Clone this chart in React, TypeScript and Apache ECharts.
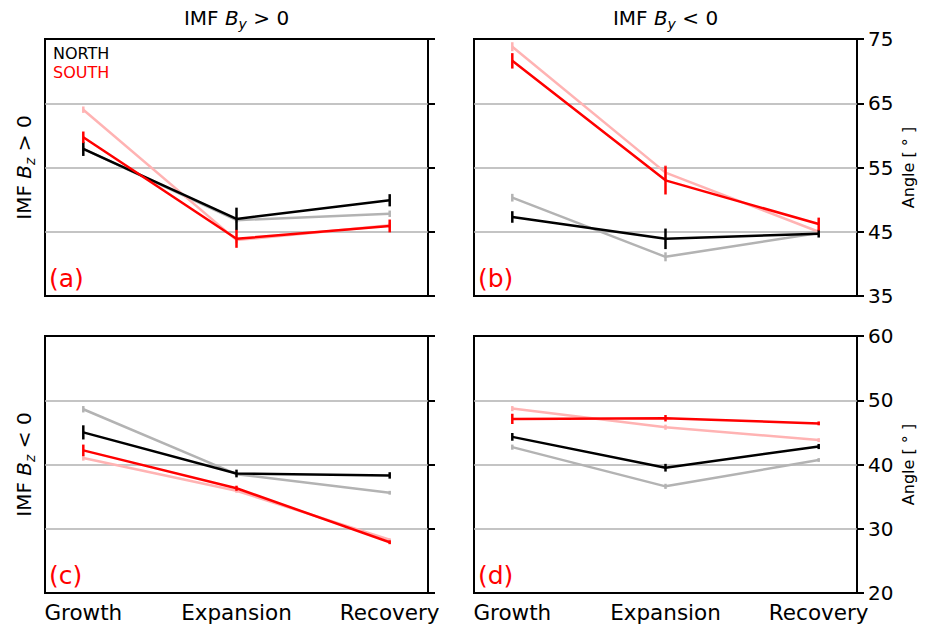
import React, { useEffect, useRef } from "react";
import * as echarts from "echarts";

const phases = ["Growth", "Expansion", "Recovery"];
const phaseX = [0, 1, 2];

// Panel (a): IMF By > 0, Bz > 0
const aNorth = [57.9, 47.0, 49.9];
const aNorthErr = [1.1, 1.75, 0.95];
const aSouth = [59.7, 43.9, 45.9];
const aSouthErr = [0.9, 1.4, 1.0];
const aNorthAlt = [57.9, 46.8, 47.8];
const aNorthAltErr = [0.4, 0.4, 0.5];
const aSouthAlt = [64.0, 43.7, 46.0];
const aSouthAltErr = [0.5, 0.5, 0.4];

// Panel (b): IMF By < 0, Bz > 0
const bNorth = [47.3, 43.9, 44.7];
const bNorthErr = [0.9, 1.6, 0.6];
const bSouth = [71.6, 53.0, 46.2];
const bSouthErr = [1.2, 2.2, 1.0];
const bNorthAlt = [50.3, 41.1, 44.8];
const bNorthAltErr = [0.6, 0.7, 0.3];
const bSouthAlt = [73.8, 54.2, 45.0];
const bSouthAltErr = [0.7, 1.2, 0.4];

// Panel (c): IMF By > 0, Bz < 0
const cNorth = [45.0, 38.6, 38.3];
const cNorthErr = [1.1, 0.6, 0.5];
const cSouth = [42.2, 36.3, 27.9];
const cSouthErr = [0.9, 0.4, 0.3];
const cNorthAlt = [48.6, 38.5, 35.6];
const cNorthAltErr = [0.5, 0.3, 0.3];
const cSouthAlt = [41.0, 35.9, 28.3];
const cSouthAltErr = [0.4, 0.3, 0.2];

// Panel (d): IMF By < 0, Bz < 0
const dNorth = [44.3, 39.5, 42.8];
const dNorthErr = [0.6, 0.6, 0.4];
const dSouth = [47.1, 47.2, 46.4];
const dSouthErr = [0.8, 0.5, 0.3];
const dNorthAlt = [42.7, 36.6, 40.7];
const dNorthAltErr = [0.4, 0.4, 0.3];
const dSouthAlt = [48.7, 45.8, 43.8];
const dSouthAltErr = [0.4, 0.4, 0.3];

const topRange = [35, 75];
const bottomRange = [20, 60];
const tickStep = 10;
const panelLetters = ["(a)", "(b)", "(c)", "(d)"];

const FONT = "DejaVu Sans";
const RED = "#ff0000";
const BLACK = "#000000";
const LIGHT_RED = "#ffb3b3";
const GRAY = "#b3b3b3";

type Group = { vals: number[]; errs: number[]; color: string; z: number };

const panels: Group[][] = [
  [
    { vals: aNorthAlt, errs: aNorthAltErr, color: GRAY, z: 2 },
    { vals: aSouthAlt, errs: aSouthAltErr, color: LIGHT_RED, z: 3 },
    { vals: aNorth, errs: aNorthErr, color: BLACK, z: 4 },
    { vals: aSouth, errs: aSouthErr, color: RED, z: 5 },
  ],
  [
    { vals: bNorthAlt, errs: bNorthAltErr, color: GRAY, z: 2 },
    { vals: bSouthAlt, errs: bSouthAltErr, color: LIGHT_RED, z: 3 },
    { vals: bNorth, errs: bNorthErr, color: BLACK, z: 4 },
    { vals: bSouth, errs: bSouthErr, color: RED, z: 5 },
  ],
  [
    { vals: cNorthAlt, errs: cNorthAltErr, color: GRAY, z: 2 },
    { vals: cSouthAlt, errs: cSouthAltErr, color: LIGHT_RED, z: 3 },
    { vals: cNorth, errs: cNorthErr, color: BLACK, z: 4 },
    { vals: cSouth, errs: cSouthErr, color: RED, z: 5 },
  ],
  [
    { vals: dNorthAlt, errs: dNorthAltErr, color: GRAY, z: 2 },
    { vals: dSouthAlt, errs: dSouthAltErr, color: LIGHT_RED, z: 3 },
    { vals: dNorth, errs: dNorthErr, color: BLACK, z: 4 },
    { vals: dSouth, errs: dSouthErr, color: RED, z: 5 },
  ],
];

const gridRects = [
  { left: 45, top: 39, width: 383, height: 257 },
  { left: 474, top: 39, width: 383, height: 257 },
  { left: 45, top: 336, width: 383, height: 257 },
  { left: 474, top: 336, width: 383, height: 257 },
];

const richTitle = {
  n: { fontSize: 20, fontFamily: FONT, lineHeight: 26, fill: "#000" },
  i: { fontSize: 20, fontFamily: FONT, fontStyle: "italic", lineHeight: 26, fill: "#000" },
  s: { fontSize: 14, fontFamily: FONT, fontStyle: "italic", lineHeight: 14, verticalAlign: "bottom", fill: "#000" },
};

export default function App() {
  const ref = useRef<HTMLDivElement>(null);
  useEffect(() => {
    if (!ref.current) return;
    const chart = echarts.init(ref.current, null, { renderer: "svg" });

    const grid = gridRects.map((r) => ({
      ...r,
      show: true,
      borderColor: "#000",
      borderWidth: 2,
      backgroundColor: "transparent",
      containLabel: false,
    }));

    const xAxis = gridRects.map((_, i) => ({
      type: "value",
      gridIndex: i,
      min: -0.25,
      max: 2.25,
      axisLine: { show: false, onZero: false },
      axisTick: { show: false },
      splitLine: { show: false },
      axisLabel: {
        show: i >= 2,
        customValues: phaseX,
        formatter: (v: number) => phases[Math.round(v)],
        fontSize: 21.5,
        fontFamily: FONT,
        color: "#000",
        margin: 8,
      },
    }));

    const yAxis = gridRects.map((_, i) => {
      const rng = i < 2 ? topRange : bottomRange;
      return {
        type: "value",
        gridIndex: i,
        position: "right",
        min: rng[0],
        max: rng[1],
        interval: tickStep,
        axisLine: { show: false, onZero: false },
        axisTick: { show: true, inside: false, length: 7, lineStyle: { color: "#000", width: 2 } },
        axisLabel: {
          show: i % 2 === 1,
          fontSize: 20,
          fontFamily: FONT,
          color: "#000",
          margin: 11,
        },
        splitLine: {
          show: true,
          showMinLine: false,
          showMaxLine: false,
          lineStyle: { color: "#b0b0b0", width: 1.6 },
        },
      };
    });

    const series: any[] = [];
    panels.forEach((groups, pi) => {
      groups.forEach((g) => {
        series.push({
          type: "line",
          xAxisIndex: pi,
          yAxisIndex: pi,
          data: phaseX.map((x, k) => [x, g.vals[k]]),
          symbol: "none",
          lineStyle: { color: g.color, width: 2.5 },
          z: g.z,
          silent: true,
        });
        series.push({
          type: "custom",
          xAxisIndex: pi,
          yAxisIndex: pi,
          data: phaseX.map((x, k) => [x, g.vals[k], g.errs[k]]),
          encode: { x: 0, y: 1 },
          z: g.z,
          silent: true,
          renderItem: (_p: any, api: any) => {
            const x = api.value(0);
            const y = api.value(1);
            const e = api.value(2);
            const p1 = api.coord([x, y - e]);
            const p2 = api.coord([x, y + e]);
            return {
              type: "line",
              shape: { x1: p1[0], y1: p1[1], x2: p2[0], y2: p2[1] },
              style: { stroke: g.color, lineWidth: 2.5 },
            };
          },
        });
      });
    });

    const graphic: any[] = [
      {
        type: "text",
        x: 236.5,
        y: 18,
        style: { text: "{n|IMF }{i|B}{s|y}{n| > 0}", rich: richTitle, align: "center", verticalAlign: "middle" },
      },
      {
        type: "text",
        x: 665.5,
        y: 18,
        style: { text: "{n|IMF }{i|B}{s|y}{n| < 0}", rich: richTitle, align: "center", verticalAlign: "middle" },
      },
      {
        type: "text",
        x: 24,
        y: 167.5,
        rotation: Math.PI / 2,
        style: { text: "{n|IMF }{i|B}{s|z}{n| > 0}", rich: richTitle, align: "center", verticalAlign: "middle" },
      },
      {
        type: "text",
        x: 24,
        y: 464.5,
        rotation: Math.PI / 2,
        style: { text: "{n|IMF }{i|B}{s|z}{n| < 0}", rich: richTitle, align: "center", verticalAlign: "middle" },
      },
      {
        type: "text",
        x: 908,
        y: 167.5,
        rotation: Math.PI / 2,
        style: { text: "Angle [ ° ]", fontSize: 16, fontFamily: FONT, fill: "#000", align: "center", verticalAlign: "middle" },
      },
      {
        type: "text",
        x: 908,
        y: 464.5,
        rotation: Math.PI / 2,
        style: { text: "Angle [ ° ]", fontSize: 16, fontFamily: FONT, fill: "#000", align: "center", verticalAlign: "middle" },
      },
      {
        type: "text",
        x: 53,
        y: 53,
        style: { text: "NORTH", fontSize: 16, fontFamily: FONT, fill: BLACK, align: "left", verticalAlign: "middle" },
      },
      {
        type: "text",
        x: 53,
        y: 72,
        style: { text: "SOUTH", fontSize: 16, fontFamily: FONT, fill: RED, align: "left", verticalAlign: "middle" },
      },
      ...gridRects.map((r, i) => ({
        type: "text",
        x: r.left + 4,
        y: r.top + r.height - 18,
        z: 10,
        style: { text: panelLetters[i], fontSize: 25, fontFamily: FONT, fill: RED, align: "left", verticalAlign: "middle" },
      })),
    ];

    chart.setOption({
      animation: false,
      backgroundColor: "#fff",
      grid,
      xAxis,
      yAxis,
      series,
      graphic,
    });
    return () => chart.dispose();
  }, []);

  return (
    <div
      ref={ref}
      style={{ position: "absolute", left: 0, top: 0, width: 925, height: 629 }}
    />
  );
}
